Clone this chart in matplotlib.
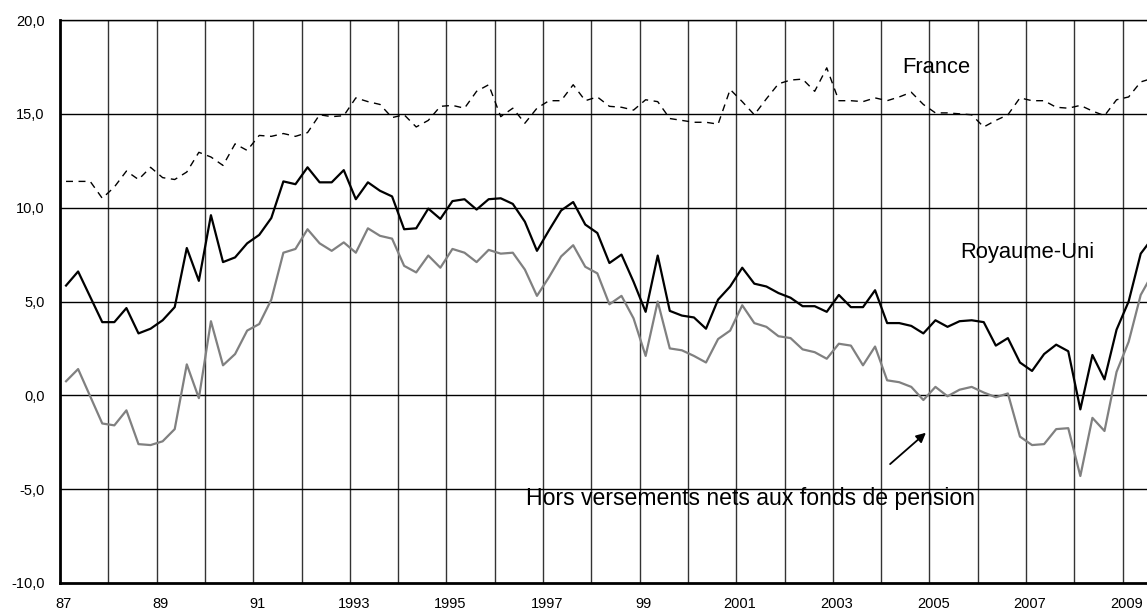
import matplotlib.pyplot as plt
import numpy as np

plt.rcParams['font.family'] = ['Liberation Sans', 'DejaVu Sans']

# quarterly series, 1987Q1 .. 2009Q3
france = [11.4, 11.4, 11.4, 10.5, 11.1, 11.95, 11.5, 12.15, 11.6, 11.5,
          11.9, 12.95, 12.7, 12.25, 13.4, 13.05, 13.85, 13.8, 13.95, 13.8,
          14.0, 14.95, 14.85, 14.9, 15.85, 15.65, 15.5, 14.8, 14.95, 14.3,
          14.65, 15.4, 15.45, 15.3, 16.2, 16.55, 14.85, 15.3, 14.5, 15.3,
          15.7, 15.7, 16.55, 15.7, 15.9, 15.4, 15.35, 15.2, 15.75, 15.65,
          14.75, 14.65, 14.55, 14.55, 14.45, 16.3, 15.65, 14.95, 15.8, 16.6,
          16.8, 16.85, 16.2, 17.45, 15.7, 15.7, 15.65, 15.85, 15.7, 15.9,
          16.15, 15.5, 15.05, 15.05, 15.0, 14.95, 14.3, 14.65, 14.95, 15.85,
          15.7, 15.7, 15.35, 15.3, 15.45, 15.15, 14.9, 15.75, 15.9, 16.7,
          16.9]
royaume_uni = [5.85, 6.6, 5.25, 3.9, 3.9, 4.65, 3.3, 3.55, 4.0, 4.7,
               7.85, 6.1, 9.6, 7.1, 7.35, 8.1, 8.55, 9.45, 11.4, 11.25,
               12.15, 11.35, 11.35, 12.0, 10.45, 11.35, 10.9, 10.6, 8.85, 8.9,
               9.95, 9.4, 10.35, 10.45, 9.9, 10.45, 10.5, 10.2, 9.25, 7.7,
               8.8, 9.85, 10.3, 9.1, 8.65, 7.05, 7.5, 6.05, 4.45, 7.45,
               4.5, 4.25, 4.15, 3.55, 5.1, 5.8, 6.8, 5.95, 5.8, 5.45,
               5.2, 4.75, 4.75, 4.45, 5.35, 4.7, 4.7, 5.6, 3.85, 3.85,
               3.7, 3.3, 4.0, 3.65, 3.95, 4.0, 3.9, 2.65, 3.05, 1.75,
               1.3, 2.2, 2.7, 2.35, -0.75, 2.15, 0.85, 3.5, 5.0, 7.55,
               8.4]
hors_pension = [0.75, 1.4, -0.05, -1.5, -1.6, -0.8, -2.6, -2.65, -2.45, -1.8,
                1.65, -0.15, 3.95, 1.6, 2.2, 3.45, 3.8, 5.1, 7.6, 7.8,
                8.85, 8.1, 7.7, 8.15, 7.6, 8.9, 8.5, 8.35, 6.9, 6.55,
                7.45, 6.8, 7.8, 7.6, 7.1, 7.75, 7.55, 7.6, 6.7, 5.3,
                6.3, 7.4, 8.0, 6.85, 6.5, 4.85, 5.3, 4.1, 2.1, 5.0,
                2.5, 2.4, 2.1, 1.75, 3.0, 3.45, 4.8, 3.85, 3.65, 3.15,
                3.05, 2.45, 2.3, 1.95, 2.75, 2.65, 1.6, 2.6, 0.8, 0.7,
                0.45, -0.25, 0.45, -0.05, 0.3, 0.45, 0.15, -0.1, 0.1, -2.2,
                -2.65, -2.6, -1.8, -1.75, -4.3, -1.2, -1.9, 1.25, 2.85, 5.35,
                6.5]

years = list(range(1987, 2010, 2))
year_labels = ['87', '89', '91', '1993', '1995', '1997', '99', '2001',
               '2003', '2005', '2007', '2009']

x = 1987 + (np.arange(len(france)) + 0.5) / 4

W, H = 1147, 614
fig = plt.figure(figsize=(W / 100, H / 100), dpi=100)
# plot area runs past the right edge of the picture, as in the original
ax = fig.add_axes([60 / W, (H - 583) / H, (23 * 48.3) / W, 563 / H])
ax.set_xlim(1987, 2010)
ax.set_ylim(-10, 20)

for yr in range(1988, 2011):
    ax.axvline(yr, color='#333333', lw=1.0, zorder=1)
for v in [-5, 0, 5, 10, 15, 20]:
    ax.axhline(v, color='black', lw=1.0, zorder=1)

ax.plot(x, france, color='black', lw=1.0, dashes=(5, 4), zorder=3)
ax.plot(x, royaume_uni, color='black', lw=1.6, zorder=3)
ax.plot(x, hors_pension, color='#808080', lw=1.6, zorder=2)

ax.set_yticks([-10, -5, 0, 5, 10, 15, 20])
ax.set_yticklabels([f'{v:.1f}'.replace('.', ',') for v in [-10, -5, 0, 5, 10, 15, 20]])
ax.set_xticks([y + 0.08 for y in years])
ax.set_xticklabels(year_labels)
ax.tick_params(axis='both', length=0, labelsize=10.5, colors='black')
ax.tick_params(axis='x', pad=10)
ax.tick_params(axis='y', pad=11)

for side in ['left', 'bottom']:
    ax.spines[side].set_linewidth(2)
ax.spines['right'].set_visible(False)
ax.spines['top'].set_linewidth(1.0)

ax.text(1987 + (936 - 60) / 48.3, 20 - (68 - 20) / 18.77, 'France',
        fontsize=15.8, ha='center', va='center')
ax.text(1987 + (1027 - 60) / 48.3, 20 - (253 - 20) / 18.77, 'Royaume-Uni',
        fontsize=15.8, ha='center', va='center')
ax.text(1987 + (751 - 60) / 48.3, 20 - (499 - 20) / 18.77,
        'Hors versements nets aux fonds de pension',
        fontsize=16.6, ha='center', va='center')
ax.annotate('', xy=(1987 + (928 - 60) / 48.3, 20 - (431 - 20) / 18.77),
            xytext=(1987 + (888 - 60) / 48.3, 20 - (466 - 20) / 18.77),
            arrowprops=dict(arrowstyle='-|>', color='black', lw=1.3,
                            mutation_scale=14))

fig.savefig('out.png', dpi=100)
